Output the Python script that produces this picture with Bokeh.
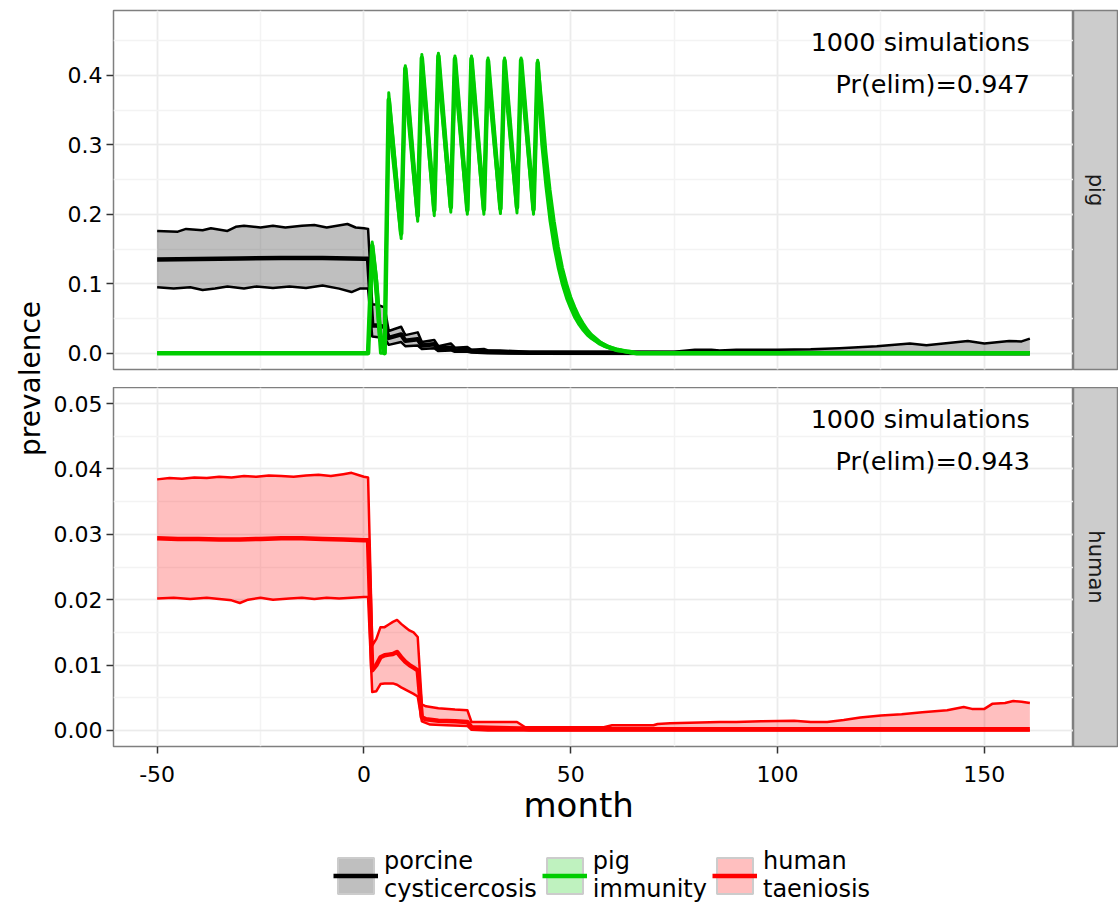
import math
from bokeh.plotting import figure
from bokeh.layouts import row, column
from bokeh.models import (Range1d, SingleIntervalTicker, NumeralTickFormatter,
                          Label, Legend, LegendItem, Title)
from bokeh.embed import file_html
from bokeh.resources import INLINE

FONT = "DejaVu Sans"

# ---------------- data (month, prevalence) ----------------
porcine_median = [(-50, 0.135), (-40, 0.1355), (-30, 0.1365), (-20, 0.137), (-10, 0.137), (0, 0.136),
                  (1, 0.136), (2, 0.040), (3, 0.040), (4, 0.039), (5, 0.038), (6, 0.022), (9, 0.027),
                  (10, 0.018), (13, 0.020), (14, 0.011), (17, 0.013), (18, 0.007), (21, 0.008),
                  (22, 0.004), (25, 0.005), (26, 0.003), (30, 0.002), (35, 0.001), (40, 0.0005), (161, 0.0)]
porcine_upper = [(-50, 0.176), (-45, 0.175), (-43, 0.179), (-39, 0.177), (-37, 0.180), (-33, 0.176),
                 (-31, 0.182), (-29, 0.1835), (-25, 0.181), (-22, 0.1835), (-19, 0.181), (-15, 0.1835),
                 (-12, 0.1845), (-9, 0.181), (-4, 0.186), (-2, 0.181), (0, 0.180), (1, 0.179),
                 (2, 0.070), (3, 0.070), (4, 0.068), (5, 0.066), (6, 0.032), (9, 0.038), (10, 0.026),
                 (13, 0.030), (14, 0.016), (17, 0.019), (18, 0.010), (21, 0.014), (22, 0.008),
                 (25, 0.009), (26, 0.005), (29, 0.006), (30, 0.004), (33, 0.004), (36, 0.003),
                 (40, 0.002), (50, 0.002), (60, 0.002), (75, 0.002), (80, 0.005), (84, 0.005),
                 (86, 0.004), (90, 0.005), (100, 0.005), (108, 0.0055), (115, 0.007), (124, 0.010),
                 (132, 0.014), (136, 0.0115), (146, 0.0176), (150, 0.014), (156, 0.0176),
                 (159, 0.017), (161, 0.021)]
porcine_lower = [(-50, 0.095), (-46, 0.093), (-42, 0.095), (-39, 0.091), (-36, 0.093), (-33, 0.096),
                 (-29, 0.093), (-26, 0.096), (-22, 0.094), (-18, 0.096), (-14, 0.094), (-10, 0.0975),
                 (-6, 0.093), (-3, 0.088), (-1, 0.093), (1, 0.093), (2, 0.024), (5, 0.022),
                 (6, 0.012), (9, 0.016), (10, 0.010), (13, 0.011), (14, 0.006), (17, 0.007),
                 (18, 0.003), (21, 0.004), (22, 0.002), (25, 0.002), (26, 0.001), (30, 0.0), (161, 0.0)]

immunity_median = [(-50, 0.0), (1, 0.0), (2, 0.155), (3, 0.10), (4, 0.02), (5, 0.0), (6, 0.365),
                   (9, 0.172), (10, 0.41), (13, 0.198), (14, 0.425), (17, 0.206), (18, 0.428),
                   (21, 0.21), (22, 0.424), (25, 0.206), (26, 0.424), (29, 0.207), (30, 0.421),
                   (33, 0.208), (34, 0.421), (37, 0.21), (38, 0.422), (41, 0.207), (42, 0.418),
                   (43, 0.33), (44, 0.265), (45, 0.212), (46, 0.17), (47, 0.137), (48, 0.11),
                   (49, 0.089), (50, 0.072), (51, 0.058), (52, 0.047), (53, 0.038), (54, 0.030),
                   (55, 0.024), (56, 0.019), (57, 0.015), (58, 0.012), (59, 0.009), (60, 0.007),
                   (61, 0.005), (62, 0.004), (63, 0.003), (64, 0.002), (65, 0.001), (66, 0.0), (161, 0.0)]
immunity_upper = [(-50, 0.0), (1, 0.0), (2, 0.16), (3, 0.11), (4, 0.03), (5, 0.0), (6, 0.375),
                  (9, 0.18), (10, 0.414), (13, 0.205), (14, 0.43), (17, 0.212), (18, 0.432),
                  (21, 0.215), (22, 0.428), (25, 0.21), (26, 0.428), (29, 0.212), (30, 0.425),
                  (33, 0.213), (34, 0.425), (37, 0.214), (38, 0.425), (41, 0.212), (42, 0.422),
                  (43, 0.36), (44, 0.29), (45, 0.235), (46, 0.19), (47, 0.153), (48, 0.123),
                  (49, 0.10), (50, 0.081), (51, 0.066), (52, 0.053), (53, 0.043), (54, 0.034),
                  (55, 0.027), (56, 0.022), (57, 0.017), (58, 0.013), (59, 0.010), (60, 0.008),
                  (61, 0.006), (62, 0.005), (63, 0.003), (64, 0.002), (65, 0.0015), (66, 0.001),
                  (67, 0.0), (161, 0.0)]
immunity_lower = [(-50, 0.0), (1, 0.0), (2, 0.145), (3, 0.08), (4, 0.0), (5, 0.0), (6, 0.335),
                  (9, 0.165), (10, 0.38), (13, 0.19), (14, 0.40), (17, 0.198), (18, 0.40),
                  (21, 0.203), (22, 0.397), (25, 0.2), (26, 0.396), (29, 0.2), (30, 0.393),
                  (33, 0.201), (34, 0.394), (37, 0.202), (38, 0.395), (41, 0.2), (42, 0.39),
                  (43, 0.30), (44, 0.24), (45, 0.19), (46, 0.152), (47, 0.122), (48, 0.098),
                  (49, 0.079), (50, 0.064), (51, 0.051), (52, 0.041), (53, 0.033), (54, 0.026),
                  (55, 0.021), (56, 0.017), (57, 0.013), (58, 0.010), (59, 0.008), (60, 0.006),
                  (61, 0.004), (62, 0.003), (63, 0.002), (64, 0.001), (65, 0.0), (161, 0.0)]

taeniosis_median = [(-50, 0.0294), (-45, 0.0293), (-40, 0.0293), (-35, 0.0292), (-30, 0.0292),
                    (-25, 0.0293), (-20, 0.0294), (-15, 0.0294), (-10, 0.0293), (-5, 0.0292),
                    (0, 0.0291), (1, 0.0291), (2, 0.0092), (3, 0.0100), (4, 0.0112), (5, 0.0115),
                    (6, 0.0116), (7, 0.0117), (8, 0.0120), (9, 0.0112), (10, 0.0105), (11, 0.0100),
                    (12, 0.0096), (13, 0.0092), (14, 0.0020), (15, 0.0017), (18, 0.0015),
                    (22, 0.0014), (25, 0.0013), (26, 0.0005), (30, 0.0004), (38, 0.0003),
                    (40, 0.0002), (161, 0.0002)]
taeniosis_upper = [(-50, 0.0384), (-47, 0.0386), (-44, 0.0385), (-41, 0.0387), (-38, 0.0386),
                   (-35, 0.0388), (-32, 0.0387), (-29, 0.0389), (-26, 0.0388), (-23, 0.0390),
                   (-20, 0.0389), (-17, 0.0388), (-14, 0.0390), (-11, 0.0391), (-8, 0.0389),
                   (-5, 0.0392), (-3, 0.0394), (-1, 0.0390), (0, 0.0388), (1, 0.0387),
                   (2, 0.0130), (3, 0.0140), (4, 0.0158), (5, 0.0158), (6, 0.0162), (7, 0.0166),
                   (8, 0.0169), (9, 0.0163), (10, 0.0158), (11, 0.0153), (12, 0.0150), (13, 0.0143),
                   (14, 0.0040), (15, 0.0037), (18, 0.0034), (22, 0.0032), (25, 0.0031),
                   (26, 0.0013), (37, 0.0013), (39, 0.0005), (58, 0.0005), (60, 0.0008),
                   (70, 0.0008), (71, 0.0010), (74, 0.0011), (86, 0.0013), (90, 0.0013),
                   (96, 0.0014), (104, 0.0015), (108, 0.0013), (112, 0.0013), (116, 0.0016),
                   (120, 0.0020), (125, 0.0023), (130, 0.0025), (135, 0.0028), (141, 0.0031),
                   (145, 0.0036), (147, 0.0033), (150, 0.0033), (152, 0.0041), (155, 0.0042),
                   (157, 0.0045), (159, 0.0044), (161, 0.0042)]
taeniosis_lower = [(-50, 0.0202), (-46, 0.0203), (-42, 0.0201), (-38, 0.0203), (-35, 0.0201),
                   (-32, 0.0199), (-30, 0.0195), (-28, 0.0200), (-25, 0.0203), (-22, 0.0200),
                   (-18, 0.0202), (-15, 0.0203), (-12, 0.0201), (-9, 0.0203), (-6, 0.0202),
                   (-3, 0.0203), (0, 0.0204), (1, 0.0204), (2, 0.0059), (3, 0.0060), (4, 0.0071),
                   (5, 0.0072), (7, 0.0072), (8, 0.0070), (9, 0.0066), (12, 0.0056), (13, 0.0052),
                   (14, 0.0014), (16, 0.0009), (20, 0.0008), (25, 0.0007), (26, 0.0001),
                   (30, 0.0), (161, 0.0)]

panel_names = ["pig", "human"]
annotation_sims = ["1000 simulations", "1000 simulations"]
annotation_pelim = ["Pr(elim)=0.947", "Pr(elim)=0.943"]
annotation_top = [0.47, 0.0499]
legend_labels = ["porcine\ncysticercosis", "pig\nimmunity", "human\ntaeniosis"]
series_colors = ["#000000", "#00CD00", "#FF0000"]
x_title = "month"
y_title = "prevalence"

x_ticks_interval = 50
y_tick_interval = [0.1, 0.01]
y_formats = ["0.0", "0.00"]
y_ranges = [(-0.0235, 0.4935), (-0.00245, 0.05245)]
x_range = (-60.55, 171.55)


def xs(pts):
    return [p[0] for p in pts]


def ys(pts):
    return [p[1] for p in pts]


def band(p, lower, upper, color, w=2.5):
    px = xs(upper) + xs(lower)[::-1]
    py = ys(upper) + ys(lower)[::-1]
    p.patch(px, py, fill_color=color, fill_alpha=0.25, line_color=None)
    p.line(xs(upper), ys(upper), line_color=color, line_width=w, line_join="round")
    p.line(xs(lower), ys(lower), line_color=color, line_width=w, line_join="round")


YLAB_W = 50
FRAME_W = 960
FRAME_H = 359
LEFT = 63
STRIP_W = 45
TOP = 10
GAP = 18
BOTTOM = 88
TOTAL_W = YLAB_W + LEFT + FRAME_W + STRIP_W
PANELS_H = TOP + FRAME_H + GAP + FRAME_H + BOTTOM
LEG_H = 903 - PANELS_H


def make_panel(i, top_border, bottom_border, show_x):
    p = figure(frame_width=FRAME_W, frame_height=FRAME_H,
               min_border_left=LEFT, min_border_right=0,
               min_border_top=top_border, min_border_bottom=bottom_border,
               x_range=Range1d(*x_range), y_range=Range1d(*y_ranges[i]),
               toolbar_location=None, output_backend="svg")
    p.background_fill_color = "white"
    p.border_fill_color = "white"
    p.outline_line_color = "#7F7F7F"
    p.outline_line_width = 1.5

    xt = SingleIntervalTicker(interval=x_ticks_interval, num_minor_ticks=2)
    yt = SingleIntervalTicker(interval=y_tick_interval[i], num_minor_ticks=2)
    p.xaxis.ticker = xt
    p.yaxis.ticker = yt
    p.xgrid.ticker = xt
    p.ygrid.ticker = yt
    for g in (p.xgrid, p.ygrid):
        g.grid_line_color = "#EBEBEB"
        g.grid_line_width = 1.5
        g.minor_grid_line_color = "#F3F3F3"
        g.minor_grid_line_width = 1.5

    for ax in (p.xaxis, p.yaxis):
        ax.axis_line_color = None
        ax.major_tick_in = 0
        ax.major_tick_out = 7
        ax.major_tick_line_color = "#333333"
        ax.major_tick_line_width = 1.5
        ax.minor_tick_line_color = None
        ax.major_label_text_font = FONT
        ax.major_label_text_font_size = "22px"
        ax.major_label_text_color = "#000000"
    p.yaxis.formatter = NumeralTickFormatter(format=y_formats[i])
    p.yaxis.major_label_standoff = 4
    p.xaxis.formatter = NumeralTickFormatter(format="0")
    p.xaxis.major_label_standoff = 12
    if show_x:
        p.add_layout(Title(text=x_title, align="left", offset=410, standoff=0,
                           vertical_align="top", text_font=FONT, text_font_size="34px",
                           text_font_style="normal", text_color="#000000"), "below")
    else:
        p.xaxis.visible = False

    x_end = max(xs(porcine_median))
    p.add_layout(Label(x=x_end, y=annotation_top[i], text=annotation_sims[i],
                       text_align="right", text_baseline="top", text_font=FONT,
                       text_font_size="25.5px", text_color="#000000"))
    p.add_layout(Label(x=x_end, y=annotation_top[i], y_offset=-42, text=annotation_pelim[i],
                       text_align="right", text_baseline="top", text_font=FONT,
                       text_font_size="25.5px", text_color="#000000"))
    return p


def make_strip(i, top_border, bottom_border):
    s = figure(frame_width=STRIP_W, frame_height=FRAME_H,
               min_border_left=0, min_border_right=0,
               min_border_top=top_border, min_border_bottom=bottom_border,
               x_range=Range1d(0, 1), y_range=Range1d(0, 1),
               toolbar_location=None, output_backend="svg")
    s.axis.visible = False
    s.grid.visible = False
    s.background_fill_color = "#CCCCCC"
    s.border_fill_color = "white"
    s.outline_line_color = "#7F7F7F"
    s.outline_line_width = 1.5
    s.add_layout(Label(x=0.5, y=0.5, text=panel_names[i], angle=-math.pi / 2,
                       text_align="center", text_baseline="middle", text_font=FONT,
                       text_font_size="21px", text_color="#1A1A1A"))
    return s


# pig panel
top = make_panel(0, TOP, GAP, False)
band(top, porcine_lower, porcine_upper, series_colors[0])
top.line(xs(porcine_median), ys(porcine_median), line_color=series_colors[0], line_width=4.5,
         line_join="round")
band(top, immunity_lower, immunity_upper, series_colors[1], w=3)
top.line(xs(immunity_median), ys(immunity_median), line_color=series_colors[1], line_width=4.5,
         line_join="round")

# human panel
bot = make_panel(1, 0, BOTTOM, True)
band(bot, taeniosis_lower, taeniosis_upper, series_colors[2])
bot.line(xs(taeniosis_median), ys(taeniosis_median), line_color=series_colors[2], line_width=4.5,
         line_join="round")

top_strip = make_strip(0, TOP, GAP)
bot_strip = make_strip(1, 0, BOTTOM)

ylab = figure(width=YLAB_W, height=PANELS_H, min_border=0, x_range=Range1d(0, YLAB_W),
              y_range=Range1d(0, PANELS_H), toolbar_location=None, output_backend="svg")
ylab.axis.visible = False
ylab.grid.visible = False
ylab.outline_line_color = None
ylab.add_layout(Label(x=30, y=PANELS_H - 378, text=y_title, angle=math.pi / 2,
                      text_align="center", text_baseline="middle", text_font=FONT,
                      text_font_size="28px", text_color="#000000"))

# legend figure (legend keys use off-frame proxy glyphs)
lf = figure(width=TOTAL_W, height=LEG_H, min_border=0,
            x_range=Range1d(0, 1), y_range=Range1d(0, 1),
            toolbar_location=None, output_backend="svg")
lf.axis.visible = False
lf.grid.visible = False
lf.outline_line_color = None
items = []
for lab, col in zip(legend_labels, series_colors):
    q = lf.quad(left=[-3], right=[-2], top=[-2], bottom=[-3], fill_color=col, fill_alpha=0.25,
                line_color="#CCCCCC", line_width=2)
    ln = lf.line(x=[-3, -2], y=[-3, -3], line_color=col, line_width=4.5)
    items.append(LegendItem(label=lab, renderers=[q, ln]))
legend = Legend(items=items, orientation="horizontal", location=(333, 0),
                glyph_width=45, glyph_height=45, label_standoff=6, spacing=5,
                padding=0, margin=0, border_line_color=None, background_fill_alpha=0,
                label_text_font=FONT, label_text_font_size="24px",
                label_text_line_height=1.05, label_text_color="#000000")
lf.add_layout(legend)

layout = column(
    row(ylab, column(row(top, top_strip), row(bot, bot_strip))),
    lf,
)

open("out.html", "w").write(file_html(layout, INLINE))
